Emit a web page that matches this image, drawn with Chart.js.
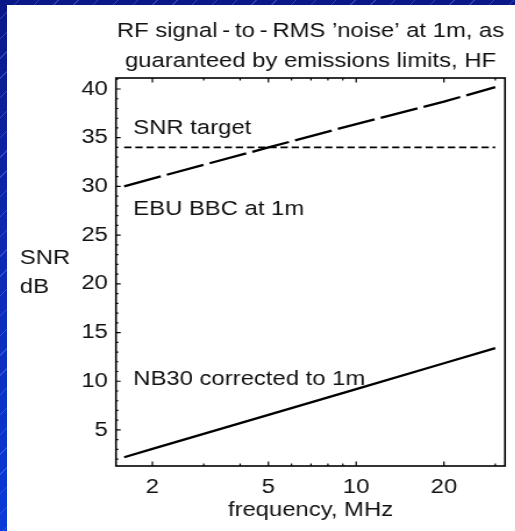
<!DOCTYPE html>
<html>
<head>
<meta charset="utf-8">
<script src="https://cdn.jsdelivr.net/npm/chart.js@4.4.1/dist/chart.umd.min.js"></script>
<style>
  html, body { margin: 0; padding: 0; }
  body {
    width: 515px; height: 531px; overflow: hidden; position: relative;
    background:
      repeating-linear-gradient(135deg, rgba(0,0,0,0) 0 13px, rgba(110,140,255,0.35) 13px 14px),
      linear-gradient(180deg, #0a1888 0%, #0c2cb8 55%, #0a3ad8 100%);
  }
  #panel {
    position: absolute; left: 7px; top: 5px; width: 508px; height: 526px;
    background: #fff; overflow: hidden;
  }
  /* the slide stretched the plot sideways, so the canvas is drawn narrow and widened */
  #plot {
    position: absolute; left: 0; top: 0;
    transform: scaleX(1.163); transform-origin: 0 0;
  }
</style>
</head>
<body>
<div id="panel"><canvas id="plot" width="437" height="526"></canvas></div>
<script>
// ---- data ----
const freqMHz   = [1.6, 2, 5, 10, 20, 30];
const nb30      = [2.2, 3.05, 6.55, 9.2, 11.85, 13.4];
const ebuBbc    = [30.0, 30.8, 34.0, 36.4, 38.7, 40.2];
const snrTarget = [34, 34, 34, 34, 34, 34];

const xTickVals  = [2, 5, 10, 20];
const xMinorVals = [3, 4, 6, 7, 8, 9, 30];
const yTickVals  = [5, 10, 15, 20, 25, 30, 35, 40];

const titleLines = ['RF signal\u2009-\u2009to\u2009-\u2009RMS \u2019noise\u2019 at 1m, as',
                    'guaranteed by emissions limits, HF'];
const yTitleLines = ['SNR', 'dB'];
const xTitle = 'frequency, MHz';

// labels sit at (MHz, dB) on the plot
const noteText = ['SNR target', 'EBU BBC at 1m', 'NB30 corrected to 1m'];
const noteX    = [1.72, 1.72, 1.72];
const noteY    = [35.4, 27.1, 9.6];

const FONT = '"Liberation Sans", Arial, sans-serif';
const INK = '#111';
const FSIZE = 20.5;

const pts = (ys) => freqMHz.map((f, i) => ({ x: f, y: ys[i] }));

// box, inward tick marks, title and text labels
const frame = {
  id: 'frame',
  afterDraw(chart) {
    const { ctx, chartArea: a, scales: { x, y } } = chart;
    ctx.save();
    ctx.strokeStyle = '#000';
    ctx.lineWidth = 1.2;
    ctx.beginPath();
    // bottom + top ticks
    xTickVals.concat(xMinorVals).forEach(v => {
      const px = x.getPixelForValue(v);
      const len = xTickVals.includes(v) ? 4.5 : 2.5;
      ctx.moveTo(px, a.bottom); ctx.lineTo(px, a.bottom - len);
      ctx.moveTo(px, a.top);    ctx.lineTo(px, a.top + len);
    });
    // left ticks, every dB
    for (let v = 2; v <= 41; v++) {
      const py = y.getPixelForValue(v);
      const len = v % 5 === 0 ? 4 : 2;
      ctx.moveTo(a.left, py); ctx.lineTo(a.left + len, py);
    }
    ctx.stroke();

    ctx.lineWidth = 1.6;
    ctx.strokeRect(a.left, a.top, a.right - a.left, a.bottom - a.top);

    ctx.fillStyle = INK;
    ctx.font = FSIZE + 'px ' + FONT;
    ctx.textBaseline = 'alphabetic';

    ctx.textAlign = 'center';
    const cx = (a.left + a.right) / 2;
    ctx.fillText(titleLines[0], cx, 32);
    ctx.fillText(titleLines[1], cx, 62);

    ctx.textAlign = 'left';
    ctx.fillText(yTitleLines[0], 11, 259);
    ctx.fillText(yTitleLines[1], 11, 288);

    noteText.forEach((t, i) => {
      ctx.fillText(t, x.getPixelForValue(noteX[i]), y.getPixelForValue(noteY[i]));
    });
    ctx.restore();
  }
};

const tickFont = { family: FONT, size: FSIZE };

new Chart(document.getElementById('plot'), {
  type: 'line',
  data: {
    datasets: [
      { label: 'NB30 corrected to 1m', data: pts(nb30),
        borderColor: '#000', borderWidth: 2.3 },
      { label: 'EBU BBC at 1m', data: pts(ebuBbc),
        borderColor: '#000', borderWidth: 2.3, borderDash: [33, 5.5] },
      { label: 'SNR target', data: pts(snrTarget),
        borderColor: '#000', borderWidth: 1.8, borderDash: [6.3, 3.3] }
    ]
  },
  options: {
    responsive: false,
    animation: false,
    layout: { padding: { top: 73, right: 8.8, left: 0, bottom: 0 } },
    elements: { point: { radius: 0 }, line: { tension: 0, borderCapStyle: 'butt' } },
    plugins: { legend: { display: false }, tooltip: { enabled: false } },
    scales: {
      x: {
        type: 'logarithmic', min: 1.5, max: 32.4,
        afterBuildTicks: s => { s.ticks = xTickVals.map(v => ({ value: v })); },
        afterFit: s => { s.height = 65; },
        grid: { display: false, drawTicks: false },
        border: { display: false },
        ticks: { font: tickFont, color: INK, padding: 9, autoSkip: false,
                 maxRotation: 0, callback: v => String(v) },
        title: { display: true, text: xTitle, font: tickFont, color: INK,
                 padding: { top: 0, bottom: 8 } }
      },
      y: {
        type: 'linear', min: 1.3, max: 41.13,
        afterBuildTicks: s => { s.ticks = yTickVals.map(v => ({ value: v })); },
        afterFit: s => { s.width = 93.7; },
        grid: { display: false, drawTicks: false },
        border: { display: false },
        ticks: { font: tickFont, color: INK, padding: 7, callback: v => String(v) }
      }
    }
  },
  plugins: [frame]
});
</script>
</body>
</html>
